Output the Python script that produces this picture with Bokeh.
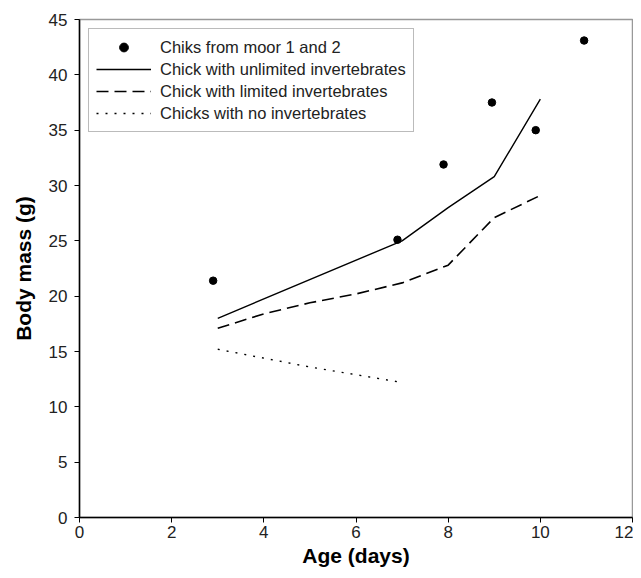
from bokeh.plotting import figure
from bokeh.models import Range1d, FixedTicker, Legend, LegendItem
from bokeh.embed import file_html
from bokeh.resources import INLINE

# Observed chicks
obs_age = [2.9, 6.9, 7.9, 8.95, 9.9, 10.95]
obs_mass = [21.4, 25.1, 31.9, 37.5, 35.0, 43.1]

# Model: unlimited invertebrates
unl_age = [3, 7, 8, 9, 10]
unl_mass = [18.0, 25.0, 28.0, 30.8, 37.8]

# Model: limited invertebrates
lim_age = [3, 4, 5, 6, 7, 8, 9, 10]
lim_mass = [17.1, 18.4, 19.4, 20.2, 21.2, 22.8, 27.1, 29.1]

# Model: no invertebrates
no_age = [3, 4, 5, 6, 7]
no_mass = [15.2, 14.4, 13.6, 12.9, 12.2]

x_ticks = [0, 2, 4, 6, 8, 10, 12]
y_ticks = [0, 5, 10, 15, 20, 25, 30, 35, 40, 45]

FONT = "Liberation Sans"

p = figure(frame_width=553, frame_height=498, output_backend="svg",
           toolbar_location=None, x_range=Range1d(0, 12), y_range=Range1d(0, 45),
           min_border_left=79, min_border_top=19, min_border_right=1, min_border_bottom=50)
p.grid.visible = False
p.outline_line_color = "#999999"
p.outline_line_width = 1.5
p.background_fill_color = "white"
p.border_fill_color = "white"

for ax, ticks in ((p.xaxis, x_ticks), (p.yaxis, y_ticks)):
    ax.ticker = FixedTicker(ticks=ticks)
    ax.minor_tick_line_color = None
    ax.major_tick_in = 0
    ax.major_tick_out = 5
    ax.axis_line_color = "black"
    ax.axis_line_width = 1.5
    ax.major_tick_line_color = "black"
    ax.major_label_text_font = FONT
    ax.major_label_text_font_size = "17px"
    ax.major_label_text_color = "#222222"
    ax.axis_label_text_font = FONT
    ax.axis_label_text_font_size = "21px"
    ax.axis_label_text_font_style = "bold"
    ax.axis_label_text_color = "black"

p.xaxis.axis_label = "Age (days)"
p.yaxis.axis_label = "Body mass (g)"
p.xaxis.major_label_standoff = 3
p.yaxis.major_label_standoff = 7
p.xaxis.axis_label_standoff = 3
p.yaxis.axis_label_standoff = 11

r_obs = p.scatter(obs_age, obs_mass, size=7.5, color="black", marker="circle")
r_unl = p.line(unl_age, unl_mass, line_color="black", line_width=1.4)
r_lim = p.line(lim_age, lim_mass, line_color="black", line_width=1.6, line_dash="12 6")
r_no = p.line(no_age, no_mass, line_color="black", line_width=1.4, line_dash="2 7")

legend = Legend(items=[
    LegendItem(label="Chiks from moor 1 and 2", renderers=[r_obs]),
    LegendItem(label="Chick with unlimited invertebrates", renderers=[r_unl]),
    LegendItem(label="Chick with limited invertebrates", renderers=[r_lim]),
    LegendItem(label="Chicks with no invertebrates", renderers=[r_no]),
], location="top_left")
legend.margin = 9
legend.padding = 7
legend.spacing = 0
legend.glyph_width = 55
legend.glyph_height = 22
legend.label_height = 22
legend.label_standoff = 9
legend.label_text_font = FONT
legend.label_text_font_size = "16.5px"
legend.label_text_color = "#222222"
legend.border_line_color = "#777777"
legend.border_line_width = 1.2
legend.background_fill_alpha = 1
p.add_layout(legend, "center")

open("out.html", "w").write(file_html(p, INLINE))
